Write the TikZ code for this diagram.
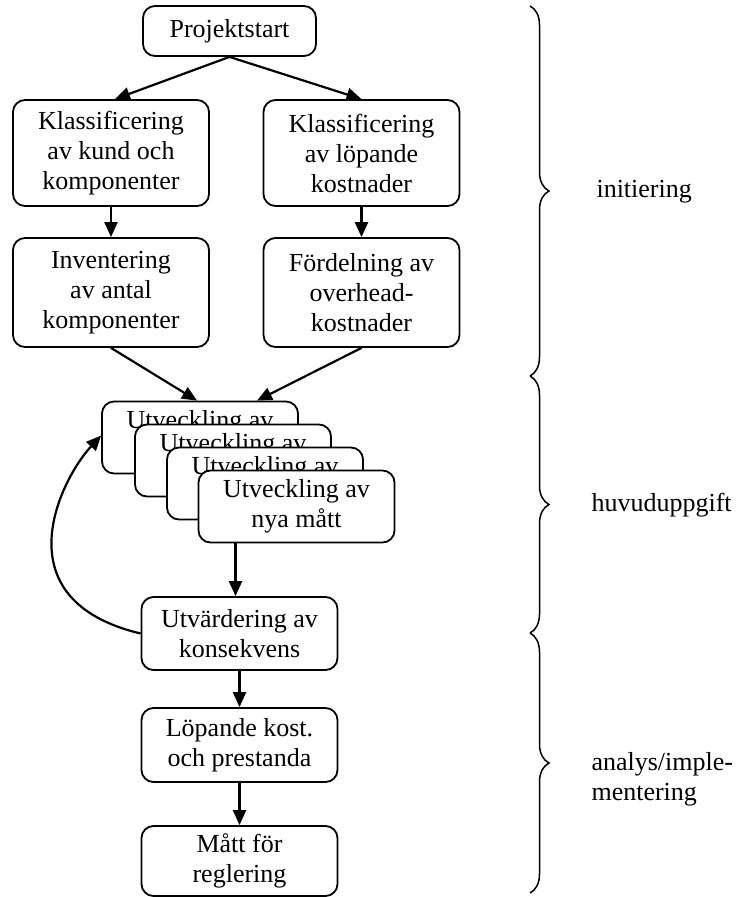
\documentclass[tikz,border=0pt]{standalone}
\usepackage{fontspec}
\setmainfont{Liberation Serif}
\usepackage{tikz}
\usetikzlibrary{positioning,calc,arrows.meta,decorations.pathreplacing}

\tikzset{
  stepbox/.style={draw, line width=1.8pt, rounded corners=12pt, fill=white,
    align=center, inner sep=0pt, minimum width=196pt,
    font=\fontsize{26}{30}\selectfont},
  flow/.style={line width=2.2pt, -{Triangle[length=15pt,width=13pt]}},
  phase/.style={decorate, line width=1.5pt,
    decoration={brace, amplitude=19pt}},
  phasetext/.style={anchor=west, align=left, font=\fontsize{26}{30}\selectfont}
}

\begin{document}
\begin{tikzpicture}[x=1pt, y=-1pt]
  \useasboundingbox (0,0) rectangle (739,897);

  % Start and first phase boxes
  \node[stepbox, minimum width=173pt, minimum height=50pt] (startP) at (229.5, 31) {Projektstart};
  \node[stepbox, minimum height=106pt] (klassK) at (111, 153) {Klassificering\\av kund och\\komponenter};
  \node[stepbox, minimum height=106pt] (klassL) at (361.5, 153) {Klassificering\\av löpande\\kostnader};
  \node[stepbox, minimum height=109pt] (invK) at (111, 292.5) {Inventering\\av antal\\komponenter};
  \node[stepbox, minimum height=109pt] (fordO) at (361.5, 292.5) {Fördelning av\\overhead-\\kostnader};

  % Stacked development boxes (drawn back to front)
  \node[stepbox, minimum height=72pt] (utv1) at (200, 437.5) {Utveckling av\\\phantom{nya mått}};
  \node[stepbox, minimum height=72pt] (utv2) at (233, 460.5) {Utveckling av\\\phantom{nya mått}};
  \node[stepbox, minimum height=72pt] (utv3) at (265, 483.5) {Utveckling av\\\phantom{nya mått}};
  \node[stepbox, minimum height=72pt] (utv4) at (296.5, 506.5) {Utveckling av\\nya mått};

  % Evaluation and last phase
  \node[stepbox, minimum height=73pt] (utvK) at (239.5, 633.5) {Utvärdering av\\konsekvens};
  \node[stepbox, minimum height=74pt] (lopK) at (239.5, 745) {Löpande kost.\\och prestanda};
  \node[stepbox, minimum height=70pt] (mattR) at (239.5, 861) {Mått för\\reglering};

  % Connectors
  \draw[flow] (startP.south) -- ([xshift=4pt]klassK.north);
  \draw[flow] (startP.south) -- (klassL.north);
  \draw[flow] (klassK) -- (invK);
  \draw[flow] (klassL) -- (fordO);
  \draw[flow] (invK.south) -- ([xshift=-3pt]utv1.north);
  \draw[flow] (fordO.south) -- ([xshift=57pt]utv1.north);
  \draw[flow] ([xshift=-4pt]utvK.north |- utv4.south) -- ([xshift=-4pt]utvK.north);
  \draw[flow] (utvK) -- (lopK);
  \draw[flow] (lopK) -- (mattR);
  \draw[flow] (utvK.west) .. controls (0, 600) and (60, 480) .. ([yshift=2pt]utv1.west);

  % Phase braces
  \coordinate (b0) at (530, 6);
  \coordinate (b1) at (530, 376);
  \coordinate (b2) at (530, 633);
  \coordinate (b3) at (530, 893);
  \draw[phase] (b0) -- (b1);
  \draw[phase] (b1) -- (b2);
  \draw[phase] (b2) -- (b3);
  \node[phasetext] (phInit) at (593, 192) {initiering};
  \node[phasetext] (phHuvud) at (588, 505) {huvuduppgift};
  \node[phasetext] (phAnalys) at (588, 779) {analys/imple-\\mentering};
\end{tikzpicture}
\end{document}
